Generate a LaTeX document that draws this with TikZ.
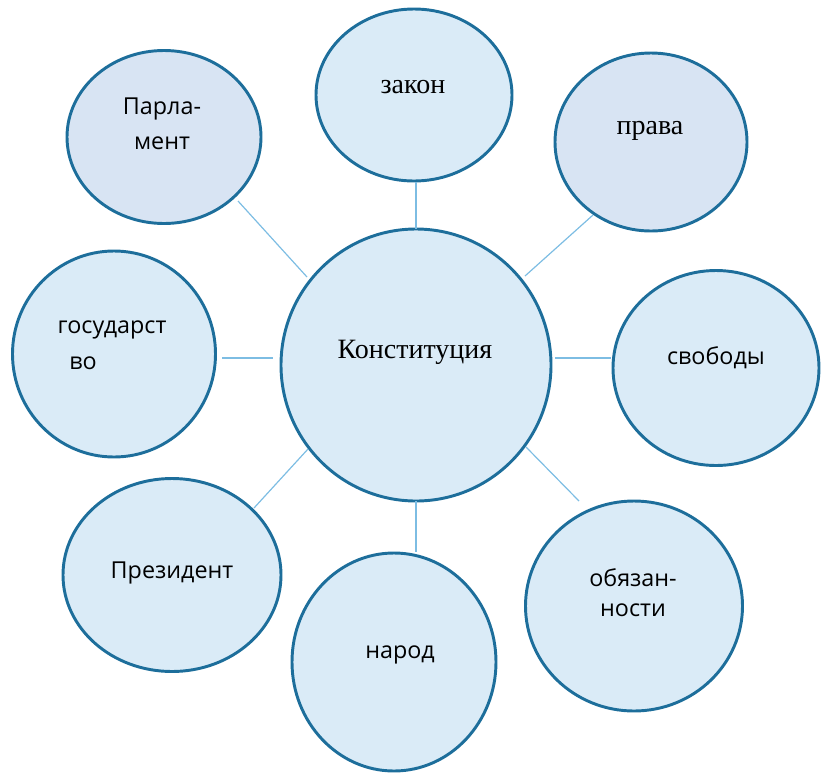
\documentclass[tikz,border=0pt]{standalone}
\usepackage{fontspec}
\setmainfont{Liberation Serif}
\newfontfamily\sanscy{Open Sans}
\usetikzlibrary{shapes.geometric}
\definecolor{fillA}{HTML}{DAEBF7}
\definecolor{fillB}{HTML}{D8E4F3}
\definecolor{edgeC}{HTML}{1D6E9B}
\definecolor{lineC}{HTML}{7DBDE3}
\tikzset{
  bubble/.style={ellipse, draw=edgeC, line width=2.2pt, fill=fillA, inner sep=0pt, outer sep=0pt},
  bubbleB/.style={bubble, fill=fillB},
  sz/.style 2 args={minimum width={#1*0.75pt}, minimum height={#2*0.75pt}},
  stxt/.style={font=\sanscy\fontsize{17.5}{21}\selectfont, inner sep=0pt},
  rtxt/.style={font=\fontsize{21}{25}\selectfont, inner sep=0pt},
  link/.style={draw=lineC, line width=0.9pt}
}
\begin{document}
\begin{tikzpicture}[x=0.75pt,y=-0.75pt]
\useasboundingbox (0,0) rectangle (821,772);
% bubbles
\node[bubble, sz={270}{272}] (c) at (416,365) {};
\node[bubble, sz={196}{172}] (zakon) at (414,95) {};
\node[bubbleB, sz={194}{173}] (parl) at (164,137) {};
\node[bubbleB, sz={192}{178}] (prava) at (651,142) {};
\node[bubble, sz={203}{206}] (gos) at (114,354) {};
\node[bubble, sz={206}{195}] (svob) at (716,368) {};
\node[bubble, sz={218}{193}] (prez) at (172,575) {};
\node[bubble, sz={217}{210}] (obyaz) at (634,606) {};
\node[bubble, sz={204}{218}] (narod) at (394,662) {};
% texts
\node[rtxt] (tc) at (415,352) {Конституция};
\node[rtxt] (tz) at (413,87) {закон};
\node[rtxt] (tp) at (650,131) {права};
\node[stxt] (tpa1) at (162,109) {Парла-};
\node[stxt] (tpa2) at (162,143) {мент};
\node[stxt] (tg1) at (112,330) {государст};
\node[stxt] (tg2) at (83,363) {во};
\node[stxt] (ts) at (716,358) {свободы};
\node[stxt] (tpr) at (172,573) {Президент};
\node[stxt] (to1) at (633,578) {обязан-};
\node[stxt] (to2) at (633,610) {ности};
\node[stxt] (tn) at (400,655) {народ};
% connector end points
\coordinate (pA) at (238,201);
\coordinate (pB) at (307,277);
\coordinate (gA) at (222,358);
\coordinate (gB) at (273,358);
\coordinate (oA) at (526,447);
\coordinate (oB) at (579,501);
\coordinate (sA) at (555,358);
\coordinate (sB) at (611,358);
\coordinate (rA) at (593,215);
\coordinate (rB) at (525,276);
\coordinate (zA) at (416,182);
\coordinate (zB) at (416,229);
\coordinate (nA) at (416,501);
\coordinate (nB) at (416,552);
\coordinate (prA) at (308,449);
\coordinate (prB) at (254,508);
% connectors
\draw[link] (pA) -- (pB);
\draw[link] (gA) -- (gB);
\draw[link] (oA) -- (oB);
\draw[link] (sA) -- (sB);
\draw[link] (rA) -- (rB);
\draw[link] (zA) -- (zB);
\draw[link] (nA) -- (nB);
\draw[link] (prA) -- (prB);
\end{tikzpicture}
\end{document}
